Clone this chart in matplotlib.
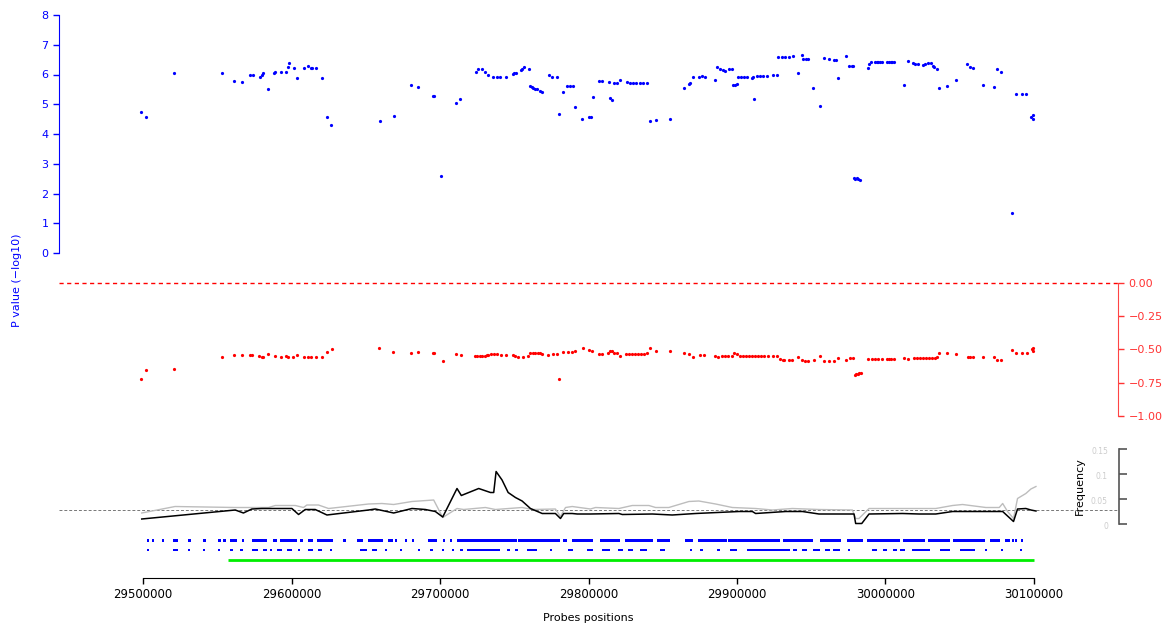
import numpy as np
import matplotlib.pyplot as plt

# ---- data (positions in kb) ----
pval_pos = [29498.7, 29501.8, 29521.1, 29553.2, 29561.5, 29566.9, 29572.1, 29573.9, 29578.8, 29579.9,
            29581.0, 29584.0, 29588.4, 29589.1, 29592.7, 29596.3, 29597.6, 29598.1, 29601.7, 29603.9,
            29608.6, 29611.3, 29612.9, 29614.0, 29616.5, 29620.7, 29623.7, 29626.6, 29659.4, 29668.8,
            29680.5, 29685.0, 29695.1, 29696.0, 29700.7, 29710.8, 29713.7, 29724.0, 29725.8, 29728.1,
            29730.3, 29732.5, 29735.9, 29738.2, 29740.4, 29744.4, 29749.0, 29749.8, 29751.2, 29754.3,
            29755.0, 29756.6, 29759.7, 29760.6, 29761.8, 29762.8, 29764.0, 29765.1, 29767.3, 29768.9,
            29773.2, 29775.2, 29778.6, 29780.3, 29782.6, 29785.7, 29787.5, 29789.4, 29790.9, 29795.8,
            29800.5, 29801.5, 29803.0, 29807.3, 29808.9, 29813.6, 29814.5, 29815.8, 29817.4, 29819.2,
            29821.0, 29825.7, 29827.9, 29830.0, 29832.0, 29834.7, 29836.7, 29839.2, 29841.4, 29845.5,
            29855.1, 29864.5, 29867.7, 29868.6, 29870.4, 29874.6, 29876.2, 29878.3, 29885.2, 29886.7,
            29888.6, 29890.4, 29891.9, 29894.8, 29896.8, 29897.5, 29898.9, 29900.2, 29900.9, 29902.7,
            29904.7, 29906.5, 29909.9, 29911.0, 29911.6, 29913.3, 29915.5, 29917.7, 29920.0, 29924.4,
            29927.1, 29927.8, 29930.1, 29932.3, 29935.2, 29937.5, 29941.3, 29943.6, 29944.6, 29946.3,
            29947.6, 29951.4, 29955.9, 29958.6, 29962.0, 29965.5, 29966.5, 29968.0, 29973.6, 29975.6,
            29977.2, 29978.3, 29978.8, 29979.8, 29980.8, 29981.8, 29982.8, 29988.4, 29989.1, 29990.0,
            29992.9, 29994.0, 29995.1, 29996.3, 29997.4, 30001.2, 30002.3, 30003.5, 30004.7, 30005.9,
            30012.7, 30014.9, 30018.7, 30019.9, 30022.1, 30025.0, 30026.6, 30028.8, 30030.4, 30031.8,
            30032.8, 30034.9, 30036.2, 30041.6, 30047.7, 30055.1, 30056.9, 30058.7, 30065.9, 30072.9,
            30075.1, 30077.8, 30085.2, 30087.7, 30092.1, 30094.8, 30098.0, 30099.5, 30099.5]
pval_val = [4.73, 4.58, 6.04, 6.04, 5.78, 5.74, 5.97, 5.97, 5.93, 5.98,
            6.06, 5.50, 6.04, 6.10, 6.10, 6.10, 6.24, 6.38, 6.23, 5.87,
            6.21, 6.29, 6.21, 6.21, 6.21, 5.87, 4.56, 4.29, 4.43, 4.59,
            5.64, 5.57, 5.27, 5.27, 2.58, 5.03, 5.17, 6.10, 6.17, 6.18,
            6.10, 5.99, 5.90, 5.90, 5.93, 5.93, 6.02, 6.04, 6.06, 6.15,
            6.20, 6.26, 6.17, 5.61, 5.57, 5.53, 5.51, 5.50, 5.46, 5.40,
            5.97, 5.90, 5.90, 4.66, 5.40, 5.60, 5.60, 5.60, 4.90, 4.49,
            4.56, 4.56, 5.23, 5.77, 5.77, 5.74, 5.20, 5.13, 5.70, 5.70,
            5.80, 5.76, 5.72, 5.72, 5.72, 5.72, 5.72, 5.70, 4.43, 4.46,
            4.49, 5.56, 5.67, 5.70, 5.90, 5.90, 5.95, 5.90, 5.80, 6.26,
            6.18, 6.14, 6.13, 6.17, 6.17, 5.64, 5.64, 5.68, 5.90, 5.90,
            5.90, 5.90, 5.87, 5.93, 5.17, 5.95, 5.95, 5.95, 5.95, 5.97,
            5.97, 6.58, 6.58, 6.58, 6.58, 6.62, 6.04, 6.64, 6.51, 6.51,
            6.51, 5.53, 4.93, 6.54, 6.51, 6.48, 6.48, 5.87, 6.61, 6.28,
            6.28, 6.28, 2.52, 2.50, 2.52, 2.48, 2.45, 6.21, 6.34, 6.41,
            6.41, 6.41, 6.41, 6.41, 6.41, 6.41, 6.41, 6.41, 6.41, 6.41,
            5.64, 6.44, 6.38, 6.34, 6.34, 6.31, 6.35, 6.38, 6.38, 6.30,
            6.24, 6.17, 5.53, 5.60, 5.80, 6.34, 6.24, 6.21, 5.64, 5.57,
            6.17, 6.10, 1.33, 5.33, 5.33, 5.33, 4.58, 4.63, 4.49]

cor_pos = [29498.7, 29501.8, 29521.1, 29553.0, 29561.5, 29566.9, 29572.1, 29573.7, 29578.3, 29579.9,
           29581.0, 29584.0, 29588.9, 29592.7, 29596.3, 29597.8, 29601.2, 29603.9, 29608.6, 29611.3,
           29612.9, 29616.3, 29620.7, 29623.7, 29627.1, 29659.1, 29668.6, 29680.5, 29685.0, 29695.1,
           29696.0, 29701.8, 29710.6, 29713.9, 29723.6, 29725.2, 29726.9, 29728.6, 29730.3, 29731.6,
           29732.5, 29734.3, 29736.4, 29738.2, 29740.9, 29744.4, 29749.0, 29750.5, 29752.7, 29756.1,
           29759.5, 29760.8, 29762.6, 29764.3, 29766.0, 29767.3, 29768.9, 29772.9, 29776.3, 29778.6,
           29780.3, 29782.6, 29786.4, 29788.7, 29790.9, 29796.1, 29800.3, 29802.6, 29807.1, 29808.9,
           29813.3, 29814.5, 29815.6, 29817.4, 29819.4, 29821.2, 29825.3, 29827.3, 29829.3, 29831.3,
           29833.3, 29835.4, 29837.4, 29839.2, 29841.4, 29845.5, 29855.1, 29864.5, 29867.9, 29870.2,
           29875.1, 29878.0, 29885.2, 29887.0, 29889.7, 29891.9, 29894.2, 29896.4, 29898.0, 29899.8,
           29902.0, 29904.0, 29906.1, 29908.1, 29910.1, 29912.1, 29914.2, 29916.2, 29918.2, 29920.7,
           29924.4, 29926.7, 29929.0, 29931.2, 29931.9, 29935.0, 29936.8, 29941.3, 29943.6, 29945.8,
           29947.6, 29951.7, 29956.1, 29958.4, 29962.2, 29965.6, 29968.2, 29973.4, 29976.3, 29978.3,
           29979.4, 29980.4, 29981.4, 29982.4, 29983.5, 29988.4, 29990.6, 29992.9, 29995.1, 29997.4,
           30000.8, 30002.3, 30004.0, 30005.9, 30012.7, 30014.9, 30019.4, 30021.2, 30023.2, 30025.3,
           30027.3, 30029.3, 30031.3, 30033.0, 30034.5, 30036.2, 30041.6, 30047.7, 30055.3, 30057.2,
           30059.1, 30065.9, 30072.9, 30074.9, 30077.8, 30085.0, 30087.9, 30092.1, 30095.5, 30098.4,
           30099.5, 30099.5]
cor_val = [-0.724, -0.657, -0.649, -0.559, -0.541, -0.544, -0.544, -0.544, -0.550, -0.553,
           -0.560, -0.531, -0.550, -0.553, -0.550, -0.560, -0.553, -0.544, -0.553, -0.553,
           -0.553, -0.553, -0.553, -0.516, -0.499, -0.491, -0.521, -0.529, -0.521, -0.529,
           -0.529, -0.589, -0.536, -0.544, -0.549, -0.549, -0.549, -0.549, -0.547, -0.545,
           -0.540, -0.537, -0.535, -0.537, -0.544, -0.544, -0.544, -0.550, -0.556, -0.560,
           -0.549, -0.529, -0.529, -0.529, -0.529, -0.529, -0.536, -0.544, -0.537, -0.537,
           -0.724, -0.521, -0.521, -0.521, -0.514, -0.491, -0.504, -0.511, -0.536, -0.536,
           -0.529, -0.511, -0.511, -0.529, -0.529, -0.550, -0.534, -0.534, -0.534, -0.534,
           -0.534, -0.534, -0.534, -0.529, -0.491, -0.514, -0.514, -0.529, -0.536, -0.559,
           -0.544, -0.544, -0.550, -0.560, -0.550, -0.550, -0.550, -0.550, -0.529, -0.536,
           -0.550, -0.550, -0.550, -0.550, -0.550, -0.550, -0.550, -0.550, -0.550, -0.550,
           -0.550, -0.550, -0.574, -0.579, -0.579, -0.580, -0.580, -0.559, -0.580, -0.589,
           -0.589, -0.580, -0.550, -0.589, -0.589, -0.589, -0.566, -0.581, -0.566, -0.566,
           -0.690, -0.685, -0.685, -0.680, -0.675, -0.574, -0.574, -0.574, -0.574, -0.574,
           -0.574, -0.574, -0.574, -0.574, -0.566, -0.574, -0.566, -0.566, -0.566, -0.566,
           -0.566, -0.566, -0.566, -0.562, -0.559, -0.529, -0.529, -0.536, -0.559, -0.559,
           -0.559, -0.559, -0.559, -0.580, -0.580, -0.506, -0.529, -0.529, -0.529, -0.499,
           -0.489, -0.511]

freq_pos = [29499.1, 29562.0, 29567.5, 29573.2, 29579.9, 29600.1, 29604.6, 29609.1, 29615.8, 29623.7,
            29651.7, 29656.2, 29668.6, 29680.9, 29689.9, 29696.6, 29701.6, 29711.2, 29714.1, 29725.8,
            29733.7, 29735.9, 29737.5, 29741.5, 29745.6, 29750.5, 29755.0, 29760.6, 29768.5, 29777.4,
            29780.8, 29783.0, 29788.7, 29792.1, 29801.0, 29820.1, 29822.4, 29842.6, 29856.0, 29871.7,
            29900.9, 29909.9, 29912.1, 29932.3, 29943.6, 29954.7, 29972.7, 29978.3, 29979.4, 29983.5,
            29988.4, 30010.9, 30022.1, 30033.3, 30044.6, 30067.0, 30078.3, 30085.6, 30088.3, 30093.9,
            30097.3, 30100.7]
freq_main = [0.010, 0.028, 0.022, 0.030, 0.031, 0.031, 0.019, 0.029, 0.029, 0.018,
             0.028, 0.030, 0.022, 0.031, 0.029, 0.025, 0.014, 0.071, 0.057, 0.071,
             0.063, 0.063, 0.105, 0.088, 0.063, 0.053, 0.046, 0.031, 0.021, 0.021,
             0.011, 0.021, 0.021, 0.020, 0.020, 0.021, 0.019, 0.020, 0.018, 0.021,
             0.025, 0.025, 0.021, 0.025, 0.025, 0.020, 0.020, 0.020, 0.001, 0.001,
             0.020, 0.021, 0.020, 0.020, 0.025, 0.025, 0.025, 0.005, 0.030, 0.031,
             0.028, 0.026]

ref_pos = [29499.1, 29521.5, 29562.0, 29584.4, 29588.9, 29602.4, 29607.9, 29610.2, 29618.0, 29624.8,
           29651.7, 29660.7, 29668.6, 29680.9, 29695.5, 29701.6, 29711.2, 29715.7, 29730.3, 29737.0,
           29755.0, 29761.8, 29777.4, 29780.8, 29784.2, 29788.7, 29801.0, 29804.4, 29820.1, 29829.1,
           29840.3, 29844.8, 29853.7, 29867.2, 29873.9, 29885.2, 29896.4, 29912.1, 29923.4, 29936.8,
           29954.7, 29977.2, 29979.4, 29981.6, 29988.4, 30010.9, 30033.3, 30044.6, 30051.3, 30067.0,
           30076.0, 30078.3, 30081.6, 30085.6, 30088.3, 30093.9, 30097.3, 30100.7]
freq_ref = [0.022, 0.035, 0.033, 0.033, 0.037, 0.037, 0.033, 0.038, 0.038, 0.031,
            0.040, 0.041, 0.039, 0.045, 0.048, 0.013, 0.031, 0.029, 0.033, 0.029,
            0.033, 0.029, 0.030, 0.015, 0.033, 0.035, 0.030, 0.033, 0.031, 0.037,
            0.037, 0.033, 0.033, 0.045, 0.046, 0.040, 0.033, 0.031, 0.028, 0.031,
            0.029, 0.028, 0.011, 0.011, 0.031, 0.031, 0.031, 0.037, 0.039, 0.033,
            0.033, 0.041, 0.025, 0.011, 0.051, 0.061, 0.070, 0.075]
freq_cutoff = 0.028

# probe tracks: (start kb, width kb)
track1 = [(29502.5, 1.5), (29505.9, 1.5), (29512.6, 1.5), (29520.4, 3.4), (29530.5, 1.5),
          (29540.7, 1.5), (29550.7, 1.5), (29554.1, 1.5), (29558.6, 4.5), (29566.5, 1.5),
          (29573.2, 10.1), (29587.7, 2.3), (29592.3, 11.2), (29605.7, 2.2), (29611.3, 3.4),
          (29617.0, 11.2), (29634.9, 1.5), (29643.9, 4.5), (29651.7, 10.1), (29665.2, 3.4),
          (29669.7, 1.5), (29676.4, 1.5), (29680.9, 1.5), (29692.1, 5.7), (29702.2, 1.5),
          (29706.7, 1.5), (29711.2, 40.4), (29752.7, 28.1), (29783.0, 2.3), (29788.7, 14.5),
          (29807.7, 13.5), (29824.6, 19.1), (29845.9, 9.0), (29865.0, 5.6), (29874.0, 19.1),
          (29894.2, 34.8), (29931.2, 20.2), (29955.6, 14.6), (29973.9, 11.2), (29987.3, 22.4),
          (30011.8, 14.8), (30028.6, 14.8), (30045.5, 21.5), (30070.4, 6.7), (30080.5, 3.4),
          (30085.2, 1.5), (30087.2, 1.5), (30091.3, 1.5)]
track2 = [(29502.5, 1.5), (29520.2, 3.4), (29530.3, 1.5), (29540.4, 1.5), (29550.5, 1.5),
          (29558.6, 2.0), (29565.3, 2.0), (29573.4, 4.0), (29580.8, 2.7), (29585.5, 1.5),
          (29590.2, 3.4), (29597.0, 3.4), (29604.4, 1.5), (29611.1, 3.4), (29617.8, 2.7),
          (29625.9, 1.5), (29646.1, 4.7), (29654.2, 3.4), (29663.0, 1.5), (29673.1, 1.5),
          (29685.2, 1.5), (29693.3, 2.0), (29701.3, 1.5), (29708.1, 1.5), (29713.5, 2.0),
          (29718.2, 22.2), (29745.1, 2.0), (29750.5, 2.0), (29758.6, 6.7), (29774.1, 1.5),
          (29786.2, 3.4), (29799.0, 4.0), (29809.1, 5.4), (29819.9, 3.4), (29826.6, 3.4),
          (29834.7, 4.7), (29848.1, 3.4), (29868.3, 1.5), (29875.1, 2.0), (29886.5, 2.0),
          (29895.3, 4.7), (29906.7, 29.0), (29937.7, 2.7), (29943.8, 3.4), (29951.2, 4.7),
          (29959.3, 3.4), (29964.6, 4.7), (29974.7, 1.5), (29990.9, 3.4), (29998.3, 2.7),
          (30005.1, 2.7), (30009.8, 3.4), (30017.8, 12.0), (30036.7, 6.7), (30050.2, 10.0),
          (30067.0, 1.5), (30077.8, 1.5), (30090.6, 1.5)]
region = (29557.2, 30100.0)

xticks = [29500000, 29600000, 29700000, 29800000, 29900000, 30000000, 30100000]
pval_ticks = [0, 1, 2, 3, 4, 5, 6, 7, 8]
cor_ticks = [0.0, -0.25, -0.5, -0.75, -1.0]
freq_ticks = [0, 0.05, 0.1, 0.15]
freq_tick_labels = ['0', '0.05', '0.1', '0.15']

kb = 1000
xlim = (29443430, 30156570)
W, H = 1172, 624


def box(x0, y0, x1, y1):
    return [x0 / W, 1 - y1 / H, (x1 - x0) / W, (y1 - y0) / H]


def bare(ax):
    for s in ax.spines.values():
        s.set_visible(False)
    ax.set_xticks([])
    ax.set_yticks([])
    ax.set_xlim(*xlim)
    ax.patch.set_visible(False)


fig = plt.figure(figsize=(W / 100, H / 100), dpi=100)
fs = 8

# p-value panel
ax1 = fig.add_axes(box(59, 15, 1118, 253))
bare(ax1)
ax1.plot(np.array(pval_pos) * kb, pval_val, 'o', ms=2.3, mew=0, color='blue', clip_on=False)
ax1.set_ylim(0, 8)
ax1.spines['left'].set_visible(True)
ax1.spines['left'].set_color('blue')
ax1.spines['left'].set_bounds(0, 8)
ax1.set_yticks(pval_ticks)
ax1.tick_params(axis='y', colors='blue', labelsize=fs, length=4, width=1)

# correlation panel
ax2 = fig.add_axes(box(59, 283, 1118, 416))
bare(ax2)
ax2.plot(np.array(cor_pos) * kb, cor_val, 'o', ms=2.3, mew=0, color='red', clip_on=False)
ax2.axhline(0, color='#ff0000', ls=(0, (3, 2.5)), lw=1.0, clip_on=False)
ax2.set_ylim(-1, 0)
ax2.spines['right'].set_visible(True)
ax2.spines['right'].set_color('#ff4444')
ax2.spines['right'].set_bounds(-1, 0)
ax2.yaxis.tick_right()
ax2.set_yticks(cor_ticks, ['0.00', '\u22120.25', '\u22120.50', '\u22120.75', '\u22121.00'])
ax2.tick_params(axis='y', colors='#ff3333', labelsize=fs, length=4, width=1)

fig.text(17 / W, 1 - 280 / H, 'P value (\u2212log10)', rotation=90, color='blue',
         fontsize=fs, ha='center', va='center')

# frequency panel
ax3 = fig.add_axes(box(59, 449, 1119, 524))
bare(ax3)
ax3.set_ylim(0, 0.15)
ax3.axhline(freq_cutoff, color='#777777', ls=(0, (3, 2)), lw=0.7)
ax3.plot(np.array(ref_pos) * kb, freq_ref, color='#bdbdbd', lw=1, clip_on=False)
ax3.plot(np.array(freq_pos) * kb, freq_main, color='black', lw=1.1, clip_on=False)
ax3.spines['right'].set_visible(True)
ax3.spines['right'].set_color('#555555')
ax3.spines['right'].set_linewidth(1.2)
ax3.spines['right'].set_bounds(0, 0.15)
ax3.yaxis.tick_right()
ax3.set_yticks(freq_ticks, [])
ax3.tick_params(axis='y', colors='#555555', length=6, width=1.2)
for v, lbl in zip(freq_ticks, freq_tick_labels):
    ax3.annotate(lbl, xy=(1, v), xycoords=('axes fraction', 'data'), xytext=(-8, -1.5),
                 textcoords='offset points', ha='right', va='center', color='#cccccc', fontsize=5.5)
ax3.annotate('Frequency', xy=(1, 0.076), xycoords=('axes fraction', 'data'), xytext=(-28, 0),
             textcoords='offset points', ha='center', va='center', rotation=90, fontsize=fs)

# probe tracks + x axis
ax4 = fig.add_axes(box(59, 530, 1118, 578))
bare(ax4)
ax4.set_ylim(48, 0)
ax4.broken_barh([(s * kb, w * kb) for s, w in track1], (8.5, 3), facecolors='blue')
ax4.broken_barh([(s * kb, w * kb) for s, w in track2], (19, 2), facecolors='blue')
ax4.hlines(30, region[0] * kb, region[1] * kb, color='#00ee00', lw=2)
ax4.spines['bottom'].set_visible(True)
ax4.spines['bottom'].set_bounds(xticks[0], xticks[-1])
ax4.set_xticks(xticks, [str(t) for t in xticks])
ax4.tick_params(axis='x', labelsize=8.5, length=4, width=1)
ax4.set_xlabel('Probes positions', fontsize=fs, labelpad=8)

fig.savefig('out.png', dpi=100)
